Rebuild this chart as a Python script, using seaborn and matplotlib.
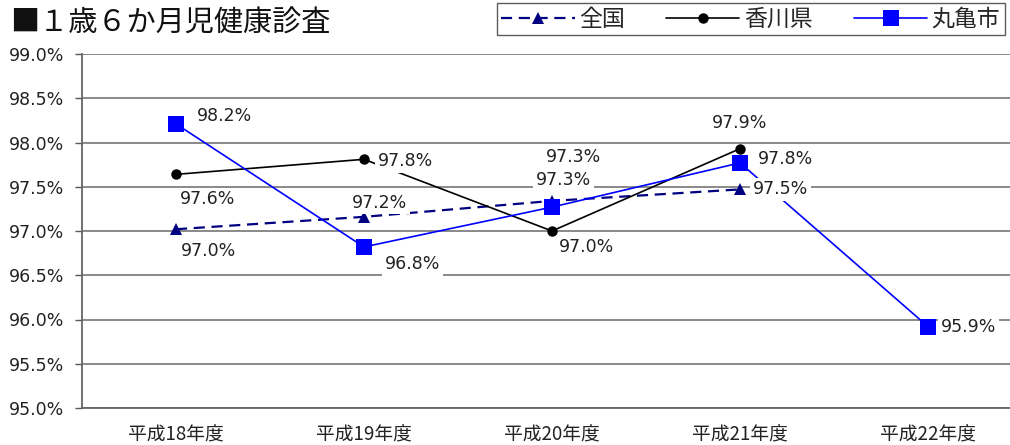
import matplotlib
matplotlib.use("Agg")
import matplotlib.pyplot as plt
import seaborn as sns
import pandas as pd
import numpy as np

# ---- data ----
categories = ["平成18年度", "平成19年度", "平成20年度", "平成21年度", "平成22年度"]
zenkoku = [97.02, 97.16, 97.34, 97.47]          # 全国
kagawa = [97.64, 97.81, 97.00, 97.93]           # 香川県
marugame = [98.21, 96.82, 97.27, 97.77, 95.92]  # 丸亀市
series_names = ["全国", "香川県", "丸亀市"]
yticks = [95.0, 95.5, 96.0, 96.5, 97.0, 97.5, 98.0, 98.5, 99.0]
title = "■１歳６か月児健康診査"

sns.set_theme(style="white")
plt.rcParams["font.family"] = ["Noto Sans CJK JP", "DejaVu Sans"]
NUM_FONT = ["DejaVu Sans"]

fig = plt.figure(figsize=(10.10, 4.45), dpi=100)
ax = fig.add_axes([82 / 1010, 37 / 445, 940 / 1010, 354 / 445])

rows = []
for name, vals in zip(series_names, [zenkoku, kagawa, marugame]):
    for i, v in enumerate(vals):
        rows.append({"series": name, "x": i, "value": v})
df = pd.DataFrame(rows)

styles = {
    "全国": dict(color="#000080", marker="^", markersize=9, linewidth=1.6,
               linestyle=(0, (5, 3))),
    "香川県": dict(color="#000000", marker="o", markersize=7.5, linewidth=1.2,
                linestyle="-"),
    "丸亀市": dict(color="#0000FF", marker="s", markersize=11.5, linewidth=1.2,
                linestyle="-"),
}
for name in series_names:
    sub = df[df["series"] == name]
    st = styles[name]
    sns.lineplot(data=sub, x="x", y="value", ax=ax, label=name,
                 color=st["color"], marker=st["marker"], markersize=st["markersize"],
                 markeredgewidth=0, linewidth=st["linewidth"],
                 linestyle=st["linestyle"], zorder=3)

# value labels (offsets in pixels: dx right, dy up)
label_offsets = {
    "全国": [(5, -22), (-12, 14), (-6, 44), (13, 0)],
    "香川県": [(4, -25), (14, -2), (7, -16), (-28, 26)],
    "丸亀市": [(21, 8), (21, -17), (-16, 27), (18, 4), (13, 0)],
}
for name, vals in zip(series_names, [zenkoku, kagawa, marugame]):
    for i, v in enumerate(vals):
        dx, dy = label_offsets[name][i]
        ax.annotate(f"{v:.1f}%", xy=(i, v), xytext=(dx, dy),
                    textcoords="offset pixels", ha="left", va="center",
                    fontsize=12.5, family=NUM_FONT, color="#222222", zorder=4,
                    bbox=dict(boxstyle="square,pad=0.15", fc="white", ec="none"))

ax.set_xlim(-0.5, 4.5)
ax.set_ylim(95.0, 99.0)
ax.set_yticks(yticks)
ax.set_yticklabels([f"{t:.1f}%" for t in yticks], fontsize=12.5, color="#222222",
                   family=NUM_FONT)
ax.set_xticks(range(len(categories)))
ax.set_xticklabels(categories, fontsize=13.5, color="#222222")
ax.set_xticks([0.5, 1.5, 2.5, 3.5], minor=True)
ax.tick_params(axis="x", which="major", length=0, pad=12)
ax.tick_params(axis="x", which="minor", length=5, direction="in", color="#555555", width=1)
ax.tick_params(axis="y", which="major", length=5, direction="out", color="#555555",
               width=1, pad=8, left=True)
ax.set_xlabel("")
ax.set_ylabel("")
ax.yaxis.grid(True, color="#808080", linewidth=1.3)
ax.xaxis.grid(False)
ax.set_axisbelow(True)
for s in ["top", "right"]:
    ax.spines[s].set_visible(False)
for s in ["left", "bottom"]:
    ax.spines[s].set_color("#666666")
    ax.spines[s].set_linewidth(1.3)

handles, labels = ax.get_legend_handles_labels()
ax.get_legend().remove()
leg = fig.legend(handles, labels, loc="upper right",
                 bbox_to_anchor=(1005 / 1010, 1 - 3 / 445), ncol=3,
                 fontsize=16.5, frameon=True, fancybox=False, handlelength=3.2,
                 columnspacing=1.8, handletextpad=0.2, borderpad=0.2,
                 borderaxespad=0)
leg.get_frame().set_edgecolor("#333333")
leg.get_frame().set_linewidth(1.0)

fig.text(10 / 1010, 1 - 24 / 445, title, fontsize=21, ha="left", va="center",
         color="#111111")

fig.savefig("out.png", dpi=100)
